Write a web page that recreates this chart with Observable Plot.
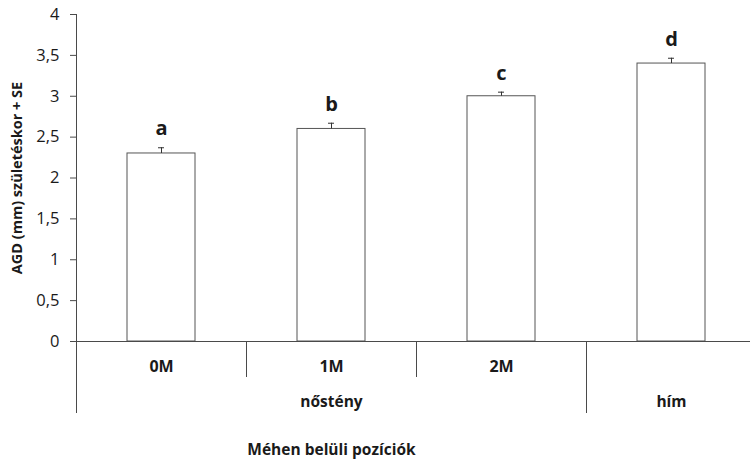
<!DOCTYPE html>
<html><head><meta charset="utf-8">
<script src="https://cdn.jsdelivr.net/npm/d3@7"></script>
<script src="https://cdn.jsdelivr.net/npm/@observablehq/plot@0.6"></script>
<style>body{margin:0;background:#fff}</style>
</head><body><div id="chart"></div>
<script>
const subLabels = ["0M", "1M", "2M", ""];
const groupOf = ["nőstény", "nőstény", "nőstény", "hím"];
const means = [2.3, 2.6, 3.0, 3.4];
const errors = [0.07, 0.07, 0.05, 0.065];
const letters = ["a", "b", "c", "d"];
const yTicks = [0, 0.5, 1, 1.5, 2, 2.5, 3, 3.5, 4];
const yTitle = "AGD (mm) születéskor + SE";
const xTitle = "Méhen belüli pozíciók";

const data = subLabels.map((s, i) => ({pos: i + 0.5, sub: s, mean: means[i], se: errors[i], letter: letters[i]}));
const groups = [];
groupOf.forEach((g, i) => {
  const last = groups[groups.length - 1];
  if (last && last.name === g) last.end = i + 1;
  else groups.push({name: g, start: i, end: i + 1});
});
const longSeps = [...new Set(groups.flatMap(g => [g.start, g.end]))];
const shortSeps = d3.range(1, groupOf.length).filter(i => !longSeps.includes(i));
const ink = "#1a1a1a";
const line = "#4a4a4a";

const chart = Plot.plot({
  width: 750, height: 460,
  marginTop: 14, marginBottom: 119, marginLeft: 76, marginRight: 0,
  x: {domain: [0, subLabels.length], range: [76, 756], axis: null},
  y: {domain: [0, 4], range: [341, 14]},
  style: {fontFamily: "'Open Sans', sans-serif", color: ink, background: "#fff"},
  marks: [
    Plot.axisY({ticks: yTicks, tickFormat: d => String(d).replace(".", ","), tickSize: 6, tickPadding: 11, fontSize: 16.5, label: null, stroke: line}),
    Plot.ruleX([0], {stroke: line}),
    Plot.rectY(data, {x1: d => d.pos - 0.2, x2: d => d.pos + 0.2, y1: 0, y2: "mean", fill: "white", stroke: "#555"}),
    Plot.ruleX(data, {x: "pos", y1: "mean", y2: d => d.mean + d.se, stroke: "#333"}),
    Plot.ruleY(data, {y: d => d.mean + d.se, x1: "pos", x2: "pos", insetLeft: -3, insetRight: -3, stroke: "#333"}),
    Plot.ruleY([0], {stroke: line}),
    Plot.ruleX(longSeps, {x: d => d, y1: 0, y2: 0, insetBottom: -72, stroke: line}),
    Plot.ruleX(shortSeps, {x: d => d, y1: 0, y2: 0, insetBottom: -36, stroke: line}),
    Plot.text(data, {x: "pos", y: d => d.mean + d.se, text: "letter", dy: -19, fontSize: 20, fontWeight: "bold", fill: ink}),
    Plot.text(data.filter(d => d.sub), {x: "pos", y: 0, text: "sub", dy: 25, fontSize: 16, fontWeight: "bold", fill: ink}),
    Plot.text(groups, {x: d => (d.start + d.end) / 2, y: 0, text: "name", dy: 61, fontSize: 15.5, fontWeight: "bold", fill: ink}),
    Plot.text([xTitle], {x: (groups[0].start + groups[0].end) / 2, y: 0, text: d => d, dy: 109, fontSize: 15.5, fontWeight: "bold", fill: ink}),
    Plot.text([yTitle], {frameAnchor: "left", textAnchor: "middle", text: d => d, rotate: -90, dx: -59, fontSize: 14.5, fontWeight: "bold", fill: ink})
  ]
});
document.getElementById("chart").append(chart);
</script>
</body></html>
